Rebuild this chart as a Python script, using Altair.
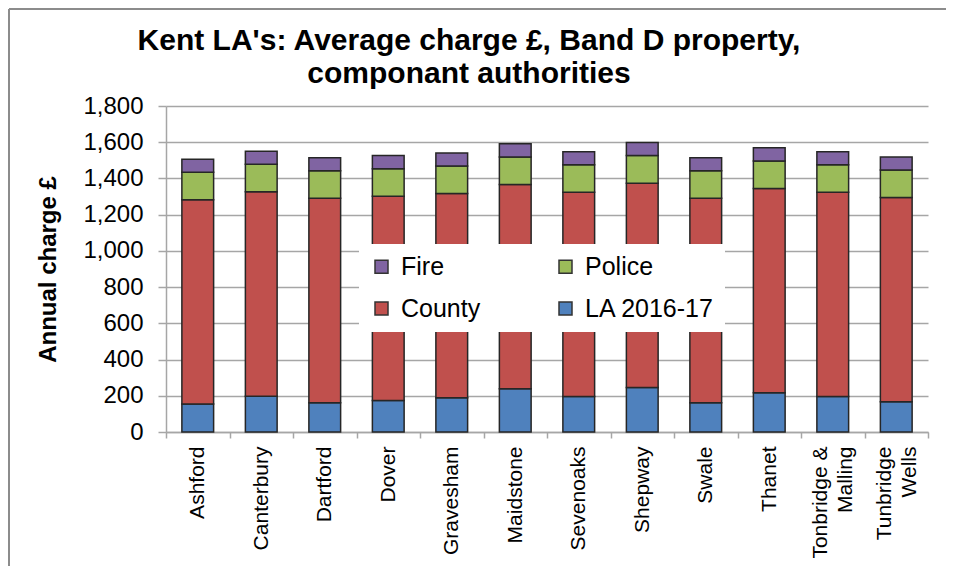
import altair as alt
import pandas as pd

districts = ["Ashford", "Canterbury", "Dartford", "Dover", "Gravesham", "Maidstone",
             "Sevenoaks", "Shepway", "Swale", "Thanet", "Tonbridge & Malling", "Tunbridge Wells"]
la_2016_17 = [154, 198, 162, 174, 189, 239, 196, 246, 162, 217, 196, 167]
county = [1128] * 12
police = [152] * 12
fire = [72] * 12

# legend fills column-first: Fire / County in column 1, Police / LA in column 2
series_legend = ["Fire", "County", "Police", "LA 2016-17"]
series_colors = ["#8064A2", "#C0504D", "#9BBB59", "#4F81BD"]
stack_order = {"LA 2016-17": 0, "County": 1, "Police": 2, "Fire": 3}
y_ticks = [0, 200, 400, 600, 800, 1000, 1200, 1400, 1600, 1800]
title_text = "Kent LA's: Average charge £, Band D property,\ncomponant authorities"

rows = []
for i, d in enumerate(districts):
    for s, vals in [("LA 2016-17", la_2016_17), ("County", county), ("Police", police), ("Fire", fire)]:
        rows.append({"district": d, "series": s, "value": vals[i], "order": stack_order[s]})
df = pd.DataFrame(rows)

FONT = "Liberation Sans"
GRID = "#A6A6A6"

two_line = "datum.value == 'Tonbridge & Malling' || datum.value == 'Tunbridge Wells'"
label_expr = ("datum.label == 'Tonbridge & Malling' ? ['Tonbridge &', 'Malling'] : "
              "datum.label == 'Tunbridge Wells' ? ['Tunbridge', 'Wells'] : datum.label")

bars = alt.Chart(df).mark_bar(
    width=alt.RelativeBandSize(0.5), stroke="#262626", strokeWidth=1.5
).encode(
    x=alt.X("district:N", sort=districts,
            scale=alt.Scale(paddingInner=0, paddingOuter=0),
            axis=alt.Axis(title=None, labelAngle=-90, labelFontSize=21, labelFont=FONT,
                          labelColor="black", tickBand="extent", tickSize=6, labelPadding=8,
                          domainColor=GRID, tickColor=GRID, domainWidth=1.5, tickWidth=1.5,
                          grid=False, labelExpr=label_expr, labelLineHeight=25,
                          labelOffset={"condition": {"test": two_line, "value": -12}, "value": 0})),
    y=alt.Y("value:Q", stack="zero", scale=alt.Scale(domain=[0, 1800], nice=False),
            axis=alt.Axis(title="Annual charge £", values=y_ticks, format=",d",
                          labelFontSize=24, labelFont=FONT, labelColor="black",
                          labelPadding=15, tickSize=8, tickColor=GRID, domainColor=GRID,
                          domainWidth=1.5, tickWidth=1.5,
                          grid=True, gridColor=GRID, gridWidth=1.5,
                          titleFontSize=24, titleFont=FONT, titleFontWeight="bold",
                          titleColor="black", titlePadding=22)),
    color=alt.Color("series:N", scale=alt.Scale(domain=series_legend, range=series_colors),
                    legend=alt.Legend(title=None, orient="none", legendX=193, legendY=138,
                                      columns=2, fillColor="white", padding=10,
                                      symbolType="square", symbolSize=169,
                                      symbolStrokeColor="#333333", symbolStrokeWidth=1.5,
                                      labelFontSize=25, labelFont=FONT, labelColor="black",
                                      rowPadding=16, columnPadding=72, labelOffset=7)),
    order=alt.Order("order:Q", sort="ascending"),
)

frame = alt.Chart(alt.Data(values=[{}]))
left_border = frame.mark_rule(color="#8C8C8C", strokeWidth=2).encode(
    x=alt.value(-157), y=alt.value(-97), y2=alt.value(460))
top_border = frame.mark_rule(color="#8C8C8C", strokeWidth=2).encode(
    x=alt.value(-157), x2=alt.value(780), y=alt.value(-97))
title = frame.mark_text(
    font=FONT, fontSize=30, fontWeight="bold", color="black", align="center",
    baseline="alphabetic", lineBreak="\n", lineHeight=33
).encode(x=alt.value(303), y=alt.value(-56), text=alt.value(title_text))

chart = alt.layer(bars, left_border, top_border, title).properties(
    width=762, height=326, padding=0,
).configure_view(stroke=None)

chart.save("out.html", embed_options={"renderer": "svg", "actions": False})
